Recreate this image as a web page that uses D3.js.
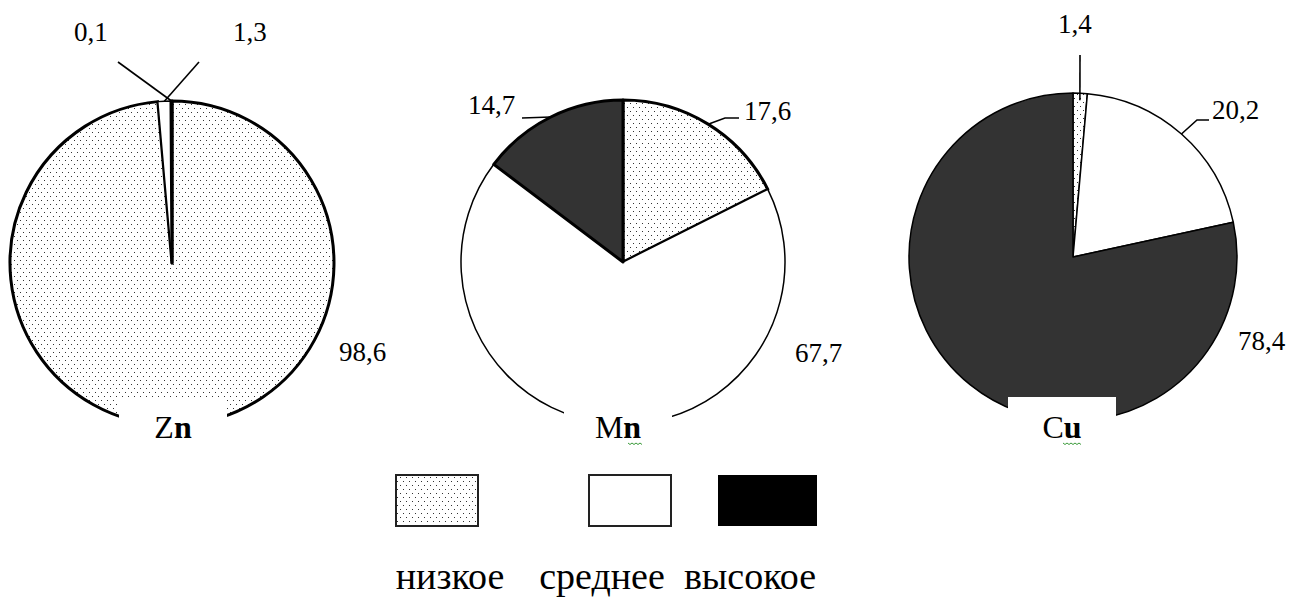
<!DOCTYPE html>
<html>
<head>
<meta charset="utf-8">
<script src="https://cdn.jsdelivr.net/npm/d3@7"></script>
</head>
<body style="margin:0">
<svg id="chart" width="1291" height="601"></svg>
<script>
// Доля почв с низким / средним / высоким содержанием микроэлементов, %
const elements = ["Zn", "Mn", "Cu"];
const levels = ["низкое", "среднее", "высокое"];
const znValues = [98.6, 1.3, 0.1];
const mnValues = [17.6, 67.7, 14.7];
const cuValues = [1.4, 20.2, 78.4];

const FONT = "Liberation Serif";

// Layout of the three pies (centre, radius, stroke per slice, label offsets)
const pieLayout = [
  { cx: 172, cy: 263, r: 162, strokes: [3, 1.5, 3],
    labelBox: 173,
    labels: [[167, 98], [61, -222], [-98, -222]],
    leaders: [null, [[27, -201]], [[-54, -201]]] },
  { cx: 623, cy: 262, r: 162, strokes: [3, 1.5, 3],
    labelBox: 618,
    labels: [[121, -142], [172, 100], [-155, -148]],
    leaders: [[[102, -144], [116, -144]], null, [[-101, -144]]] },
  { cx: 1073, cy: 257, r: 164, strokes: [1.5, 1.5, 1.5],
    labelBox: 1062,
    labels: [[-15, -224], [139, -138], [165, 93]],
    leaders: [[[7, -202]], [[124, -137], [136, -137]], null] }
];

const seriesValues = [znValues, mnValues, cuValues];
const fills = ["url(#dots)", "#ffffff", "#333333"];
const legendFills = ["url(#dots)", "#ffffff", "#000000"];

const ru = d3.formatLocale({ decimal: ",", thousands: " ", grouping: [3], currency: ["", ""] });
const fmt = ru.format(".1f");

const svg = d3.select("#chart");

// Dotted fill for the "низкое" category
const defs = svg.append("defs");
const pat = defs.append("pattern")
  .attr("id", "dots").attr("patternUnits", "userSpaceOnUse")
  .attr("width", 6).attr("height", 8);
pat.append("rect").attr("width", 6).attr("height", 8).attr("fill", "#fff");
pat.append("rect").attr("x", 1).attr("y", 1).attr("width", 1).attr("height", 1).attr("fill", "#333");
pat.append("rect").attr("x", 4).attr("y", 5).attr("width", 1).attr("height", 1).attr("fill", "#333");

const pie = d3.pie().sort(null).value(d => d);

elements.forEach((el, i) => {
  const L = pieLayout[i];
  const arcs = pie(seriesValues[i]);
  const arc = d3.arc().innerRadius(0).outerRadius(L.r);
  const g = svg.append("g").attr("transform", `translate(${L.cx},${L.cy})`);

  g.selectAll("path.slice")
    .data(arcs)
    .join("path")
    .attr("class", "slice")
    .attr("d", arc)
    .attr("fill", (d, k) => fills[k])
    .attr("stroke", "#000")
    .attr("stroke-width", (d, k) => L.strokes[k])
    .attr("stroke-linejoin", "round");

  // leader lines start on the rim at the middle of each slice
  arcs.forEach((d, k) => {
    const pts = L.leaders[k];
    if (!pts) return;
    const a = (d.startAngle + d.endAngle) / 2;
    const rr = (i === 2 && k === 0) ? L.r - 7 : L.r;
    const start = [rr * Math.sin(a), -rr * Math.cos(a)];
    g.append("path")
      .attr("d", d3.line()([start, ...pts]))
      .attr("fill", "none")
      .attr("stroke", "#000")
      .attr("stroke-width", 1.6);
  });

  // value labels
  g.selectAll("text.val")
    .data(arcs)
    .join("text")
    .attr("class", "val")
    .attr("x", (d, k) => L.labels[k][0])
    .attr("y", (d, k) => L.labels[k][1])
    .attr("font-size", 27)
    .style("font-family", `"${FONT}"`)
    .attr("fill", "#000")
    .text(d => fmt(d.data));

  // element name on a white plate over the bottom of the pie
  svg.append("rect")
    .attr("x", L.labelBox - 54).attr("y", 397)
    .attr("width", 108).attr("height", 50)
    .attr("fill", "#fff");
  const t = svg.append("text")
    .attr("x", L.labelBox).attr("y", 438)
    .attr("text-anchor", "middle")
    .attr("font-size", 32)
    .style("font-family", `"${FONT}"`)
    .attr("fill", "#000");
  t.append("tspan").text(el[0]);
  t.append("tspan").attr("font-weight", "bold").text(el.slice(1));
});

// spell-check squiggles under the element names
[[628, 642, 443], [1063, 1082, 443]].forEach(([x0, x1, y]) => {
  const pts = d3.range(x0, x1 + 0.1, 2).map((x, j) => [x, y + (j % 2 ? 1.5 : 0)]);
  svg.append("path")
    .attr("d", d3.line()(pts))
    .attr("fill", "none")
    .attr("stroke", "#3a9a3a")
    .attr("stroke-width", 1);
});

// Legend
const legendBoxX = [396, 589, 718];
const legendBoxW = [82, 82, 99];
const legendTextX = [450, 602, 750];

svg.selectAll("rect.leg")
  .data(levels)
  .join("rect")
  .attr("class", "leg")
  .attr("x", (d, k) => legendBoxX[k])
  .attr("y", 475)
  .attr("width", (d, k) => legendBoxW[k])
  .attr("height", 51)
  .attr("fill", (d, k) => legendFills[k])
  .attr("stroke", "#222")
  .attr("stroke-width", (d, k) => k === 2 ? 0 : 2);

svg.selectAll("text.leg")
  .data(levels)
  .join("text")
  .attr("class", "leg")
  .attr("x", (d, k) => legendTextX[k])
  .attr("y", 589)
  .attr("text-anchor", "middle")
  .attr("font-size", 38)
  .style("font-family", `"${FONT}"`)
  .attr("fill", "#000")
  .text(d => d);
</script>
</body>
</html>
